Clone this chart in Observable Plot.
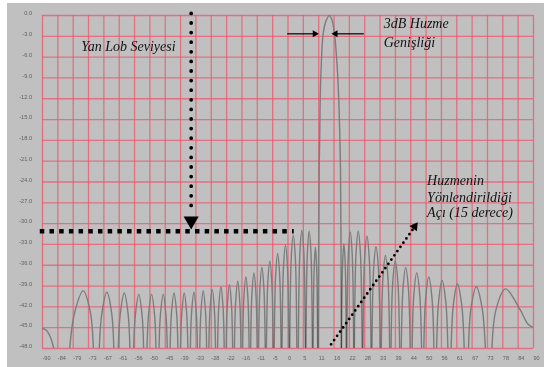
<!DOCTYPE html>
<html>
<head>
<meta charset="utf-8">
<script src="https://cdn.jsdelivr.net/npm/d3@7"></script>
<script src="https://cdn.jsdelivr.net/npm/@observablehq/plot@0.6"></script>
<style>
  html, body { margin: 0; padding: 0; background: #fff; overflow: hidden; }
</style>
</head>
<body>
<div id="chart"></div>
<script>
// Radiation pattern of a linear array steered to 15°, normalised level in dB (floor -48 dB)

// Axis labels
const xLabels = ["-90","-84","-79","-73","-67","-61","-56","-50","-45","-39","-33","-28","-22","-16","-11","-5",
                 "0","5","11","16","22","28","33","39","44","50","56","61","67","73","78","84","90"];
const yTickDb = d3.range(0, -49, -3);

// Main beam: angle (deg) and level (dB)
const mainLobeDeg = [11.10, 11.28, 11.43, 11.65, 11.80, 12.16, 12.90, 14.0, 15.2, 16.15, 17.04, 18.03, 18.61, 18.98, 19.24, 19.42, 19.50];
const mainLobeDb  = [-48, -31.4, -21.9, -17.0, -12.2, -7.4, -2.6, -0.7, 0, -0.7, -2.6, -7.4, -12.2, -17.0, -21.9, -31.4, -48];

// Side lobes, one row per lobe: floor crossing, half-power shoulder, peak, shoulder, floor crossing
const sideLobeDeg = [
  [-90, -88.5, -87.06, -85.85],
  [-80.03, -78.15, -75.06, -72.50, -71.35],
  [-69.19, -68.23, -66.38, -64.65, -63.85],
  [-62.21, -61.49, -60.02, -58.62, -57.96],
  [-56.57, -55.96, -54.71, -53.49, -52.93],
  [-51.68, -51.14, -50.01, -48.91, -48.41],
  [-47.27, -46.78, -45.74, -44.73, -44.26],
  [-43.21, -42.74, -41.77, -40.82, -40.37],
  [-39.40, -38.95, -38.04, -37.14, -36.71],
  [-35.79, -35.36, -34.49, -33.62, -33.21],
  [-32.34, -31.92, -31.08, -30.25, -29.83],
  [-29.02, -28.60, -27.79, -26.98, -26.57],
  [-25.81, -25.39, -24.60, -23.81, -23.39],
  [-22.68, -22.25, -21.48, -20.71, -20.29],
  [-19.63, -19.19, -18.43, -17.68, -17.25],
  [-16.63, -16.18, -15.44, -14.70, -14.25],
  [-13.69, -13.22, -12.49, -11.75, -11.29],
  [-10.78, -10.29, -9.57, -8.84, -8.36],
  [-7.90, -7.39, -6.67, -5.95, -5.45],
  [-5.04, -4.51, -3.80, -3.08, -2.55],
  [-2.19, -1.64, -0.93, -0.21, 0.34],
  [0.65, 1.22, 1.94, 2.66, 3.23],
  [3.80, 4.38, 5.08, 5.78, 6.36],
  [6.61, 7.12, 7.76, 8.40, 8.92],
  [9.24, 9.59, 10.06, 10.51, 10.86],
  [19.64, 20.01, 20.48, 20.98, 21.34],
  [21.58, 22.14, 22.82, 23.51, 24.07],
  [24.33, 24.97, 25.74, 26.52, 27.17],
  [27.47, 28.12, 28.94, 29.76, 30.42],
  [30.78, 31.42, 32.26, 33.12, 33.78],
  [34.21, 34.84, 35.72, 36.61, 37.26],
  [37.78, 38.41, 39.33, 40.27, 40.93],
  [41.53, 42.17, 43.14, 44.13, 44.80],
  [45.52, 46.16, 47.21, 48.27, 48.96],
  [49.80, 50.48, 51.61, 52.78, 53.50],
  [54.50, 55.22, 56.50, 57.82, 58.61],
  [59.81, 60.62, 62.11, 63.68, 64.60],
  [66.16, 67.12, 69.04, 71.14, 72.36],
  [74.77, 76.25, 79.69, 85.09, 88, 90]
];
const sideLobeDb = [
  [-45.1, -45.4, -46.4, -48],
  [-48, -42.7, -39.7, -42.7, -48],
  [-48, -42.9, -39.9, -42.9, -48],
  [-48, -43.0, -40.0, -43.0, -48],
  [-48, -43.2, -40.2, -43.2, -48],
  [-48, -43.2, -40.2, -43.2, -48],
  [-48, -43.2, -40.2, -43.2, -48],
  [-48, -43.0, -40.0, -43.0, -48],
  [-48, -43.0, -40.0, -43.0, -48],
  [-48, -42.9, -39.9, -42.9, -48],
  [-48, -42.7, -39.7, -42.7, -48],
  [-48, -42.5, -39.5, -42.5, -48],
  [-48, -42.1, -39.1, -42.1, -48],
  [-48, -41.8, -38.8, -41.8, -48],
  [-48, -41.3, -38.3, -41.3, -48],
  [-48, -40.7, -37.7, -40.7, -48],
  [-48, -40.1, -37.1, -40.1, -48],
  [-48, -39.3, -36.3, -39.3, -48],
  [-48, -38.4, -35.4, -38.4, -48],
  [-48, -37.3, -34.3, -37.3, -48],
  [-48, -36.1, -33.1, -36.1, -48],
  [-48, -34.7, -31.7, -34.7, -48],
  [-48, -34.0, -31.0, -34.0, -48],
  [-48, -34.1, -31.1, -34.1, -48],
  [-48, -36.4, -33.4, -36.4, -48],
  [-48, -35.9, -32.9, -35.9, -48],
  [-48, -34.2, -31.2, -34.2, -48],
  [-48, -34.1, -31.1, -34.1, -48],
  [-48, -34.8, -31.8, -34.8, -48],
  [-48, -36.3, -33.3, -36.3, -48],
  [-48, -37.6, -34.6, -37.6, -48],
  [-48, -38.4, -35.4, -38.4, -48],
  [-48, -39.3, -36.3, -39.3, -48],
  [-48, -40.1, -37.1, -40.1, -48],
  [-48, -40.7, -37.7, -40.7, -48],
  [-48, -41.2, -38.2, -41.2, -48],
  [-48, -41.7, -38.7, -41.7, -48],
  [-48, -42.1, -39.1, -42.1, -48],
  [-48, -42.4, -39.4, -42.4, -44.5, -45.0]
];

// Annotations (positions in degrees / dB)
const noteText = ["Yan Lob Seviyesi", "3dB Huzme", "Genişliği", "Huzmenin", "Yönlendirildiği", "Açı (15 derece)"];
const noteDeg  = [-75.8, 35.1, 35.1, 51.0, 51.0, 51.0];
const noteDb   = [-5.1, -1.8, -4.5, -24.4, -26.9, -29.1];

const sideLobeLevelDb = -31.1;          // dashed side-lobe level line
const sideLobeLevelSpan = [-91, 2.1];
const sllPointer = {deg: -35.5, fromDb: 0.3, toDb: -28.6, headDb: -29.6};
const beamwidthDb = -2.64;              // half-power width arrows
const beamwidthLeft = [-0.3, 10.4], beamwidthRight = [27.8, 16.8];
const beamwidthHeads = [9.82, 17.41];
const steerPointer = {x1: 15.8, y1: -47.4, x2: 46.0, y2: -30.7, headDeg: 46.44, headDb: -30.41};

// Flatten the pattern into one table, one series per lobe
const pattern = [];
[[mainLobeDeg, mainLobeDb], ...sideLobeDeg.map((d, i) => [d, sideLobeDb[i]])].forEach(([degs, dbs], lobe) => {
  degs.forEach((deg, j) => pattern.push({lobe, deg, db: dbs[j]}));
});

const xTickDeg = d3.range(xLabels.length).map(i => -90 + i * 180 / (xLabels.length - 1));
const gridStyle = {stroke: "#ea5a70", strokeWidth: 1.3, strokeOpacity: 0.78};
const tickFont = {fontFamily: "Liberation Sans", fontSize: 5.6, fill: "#606060"};
const noteFont = {fontFamily: "Liberation Serif", fontStyle: "italic", fontSize: 14, fill: "#111"};

const chart = Plot.plot({
  width: 544,
  height: 367,
  marginLeft: 42,
  marginRight: 11,
  marginTop: 15,
  marginBottom: 19,
  x: {domain: [-90, 90], axis: null},
  y: {domain: [-48, 0], axis: null},
  marks: [
    Plot.ruleX(xTickDeg, gridStyle),
    Plot.ruleY(yTickDb, gridStyle),
    Plot.line(pattern, {x: "deg", y: "db", z: "lobe", curve: "catmull-rom", stroke: "#7c7c7c",
      strokeWidth: 1.4, mixBlendMode: "multiply", clip: true}),
    // tick labels
    Plot.text(xTickDeg, {x: d => d, y: -48, text: (d, i) => xLabels[i], textAnchor: "start",
      lineAnchor: "bottom", dy: 11.5, ...tickFont}),
    Plot.text(yTickDb, {x: -90, y: d => d, text: d => d.toFixed(1), textAnchor: "end",
      dx: -10.5, dy: -2, ...tickFont}),
    // side-lobe level
    Plot.link([0], {x1: sideLobeLevelSpan[0], x2: sideLobeLevelSpan[1], y1: sideLobeLevelDb, y2: sideLobeLevelDb,
      stroke: "#000", strokeWidth: 4.3, strokeDasharray: "4.5 5.2"}),
    Plot.link([0], {x1: sllPointer.deg, x2: sllPointer.deg, y1: sllPointer.fromDb, y2: sllPointer.toDb,
      stroke: "#000", strokeWidth: 3.8, strokeLinecap: "round", strokeDasharray: "0 9.6"}),
    Plot.dot([0], {x: sllPointer.deg, y: sllPointer.headDb, symbol: "triangle", r: 5.6, rotate: 180,
      fill: "#000", stroke: "none"}),
    // half-power beamwidth
    Plot.link([beamwidthLeft, beamwidthRight], {x1: d => d[0], x2: d => d[1], y1: beamwidthDb, y2: beamwidthDb,
      stroke: "#000", strokeWidth: 1.2}),
    Plot.dot(beamwidthHeads, {x: d => d, y: beamwidthDb, symbol: "triangle", r: 2.6,
      rotate: (d, i) => (i === 0 ? 90 : -90), fill: "#000", stroke: "none"}),
    // steering direction
    Plot.link([0], {x1: steerPointer.x1, y1: steerPointer.y1, x2: steerPointer.x2, y2: steerPointer.y2,
      stroke: "#000", strokeWidth: 2.8, strokeLinecap: "round", strokeDasharray: "0 5.2"}),
    Plot.dot([0], {x: steerPointer.headDeg, y: steerPointer.headDb, symbol: "triangle", r: 3.4, rotate: 35,
      fill: "#000", stroke: "none"}),
    // notes
    Plot.text(noteText, {x: (d, i) => noteDeg[i], y: (d, i) => noteDb[i], text: d => d,
      textAnchor: "start", lineAnchor: "bottom", ...noteFont})
  ]
});

// grey chart panel behind everything
d3.select(chart).insert("rect", ":first-child")
  .attr("x", 7).attr("y", 3).attr("width", 537).attr("height", 364)
  .attr("fill", "#c0c0c0");

document.getElementById("chart").appendChild(chart);
</script>
</body>
</html>
